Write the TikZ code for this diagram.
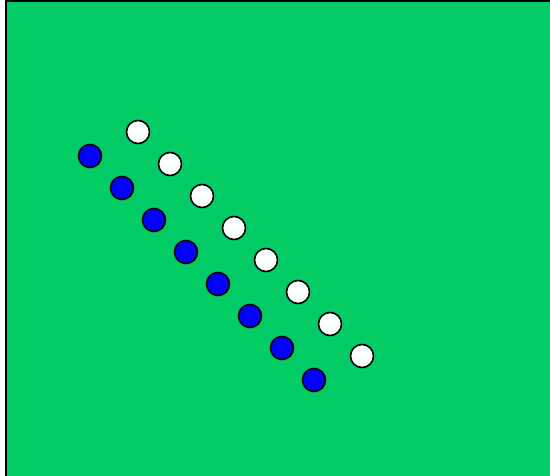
\documentclass[tikz,border=0pt]{standalone}
\usepackage{tikz}
\definecolor{field}{RGB}{3,204,102}
\definecolor{dotblue}{RGB}{0,0,255}

\begin{document}
\begin{tikzpicture}[x=1pt,y=-1pt,
      dot/.style={draw,line width=1.6pt,circle,minimum size=23pt,inner sep=0pt},
      whitedot/.style={dot,fill=white},
      bluedot/.style={dot,fill=dotblue}]
      \clip (0,0) rectangle (550,475);
      \fill[white] (0,0) rectangle (550,475);
      \draw[line width=1.6pt,fill=field] (6,1) rectangle (560,485);
      \foreach \i in {0,...,7} {
        \node[whitedot] (w\i) at (138+32*\i,132+32*\i) {};
        \node[bluedot] (b\i) at (90+32*\i,156+32*\i) {};
      }
    \end{tikzpicture}
\end{document}
